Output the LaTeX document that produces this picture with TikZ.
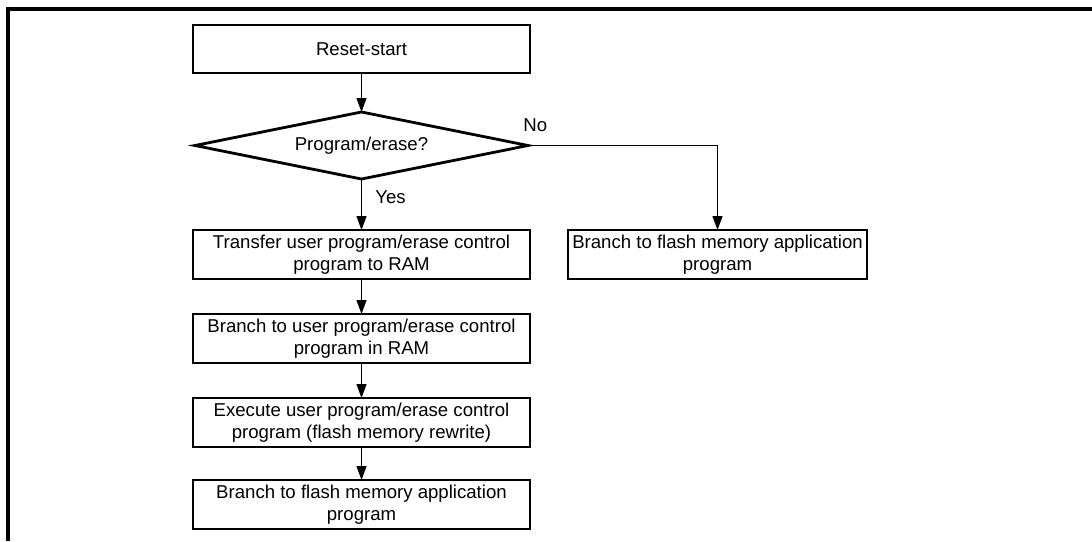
\documentclass[tikz,border=0pt]{standalone}
\usepackage{fontspec}
\setmainfont{Liberation Sans}
\usetikzlibrary{positioning,shapes.geometric,arrows.meta}

\begin{document}
\begin{tikzpicture}[
  x=0.5pt, y=-0.5pt,
  box/.style={draw, line width=1.4pt, outer sep=0pt, minimum width=168.5pt, minimum height=24.5pt, inner sep=1pt, align=center, font=\fontsize{9.3}{11}\selectfont},
  decision/.style={diamond, draw, line width=1.4pt, aspect=5, outer sep=0pt, minimum width=166.5pt, minimum height=33.5pt, inner sep=0pt, font=\fontsize{9.3}{11}\selectfont},
  lbl/.style={inner sep=1pt, font=\fontsize{9.3}{11}\selectfont},
  arr/.style={-{Triangle[length=7pt,width=5pt]}, line width=0.6pt},
  node distance=17.5pt
]
  \useasboundingbox (0,0) rectangle (1092,541);
  \draw[line width=1.6pt] (1092,9) -- (8,9) -- (8,541);

  \node[box, minimum height=24pt] (start) at (361.5,49) {Reset-start};
  \node[decision, below=19.5pt of start] (decide) {Program/erase?};
  \node[box, below=25.5pt of decide] (xfer) {Transfer user program/erase control\\program to RAM};
  \node[box, below=of xfer] (jump) {Branch to user program/erase control\\program in RAM};
  \node[box, below=of jump] (exec) {Execute user program/erase control\\program (flash memory rewrite)};
  \node[box, below=16.5pt of exec] (appA) {Branch to flash memory application\\program};
  \node[box, minimum width=149.5pt, right=19pt of xfer] (appB) {Branch to flash memory application\\program};

  \node[lbl, anchor=base west] (no) at ([xshift=-3.5pt,yshift=7pt]decide.east) {No};
  \node[lbl, anchor=base west] (yes) at ([xshift=5.75pt,yshift=-12pt]decide.south) {Yes};

  \draw[arr] (start) -- (decide);
  \draw[arr] (decide) -- (xfer);
  \draw[arr] (xfer) -- (jump);
  \draw[arr] (jump) -- (exec);
  \draw[arr] (exec) -- (appA);
  \draw[arr] (decide.east) -| (appB);
\end{tikzpicture}
\end{document}
